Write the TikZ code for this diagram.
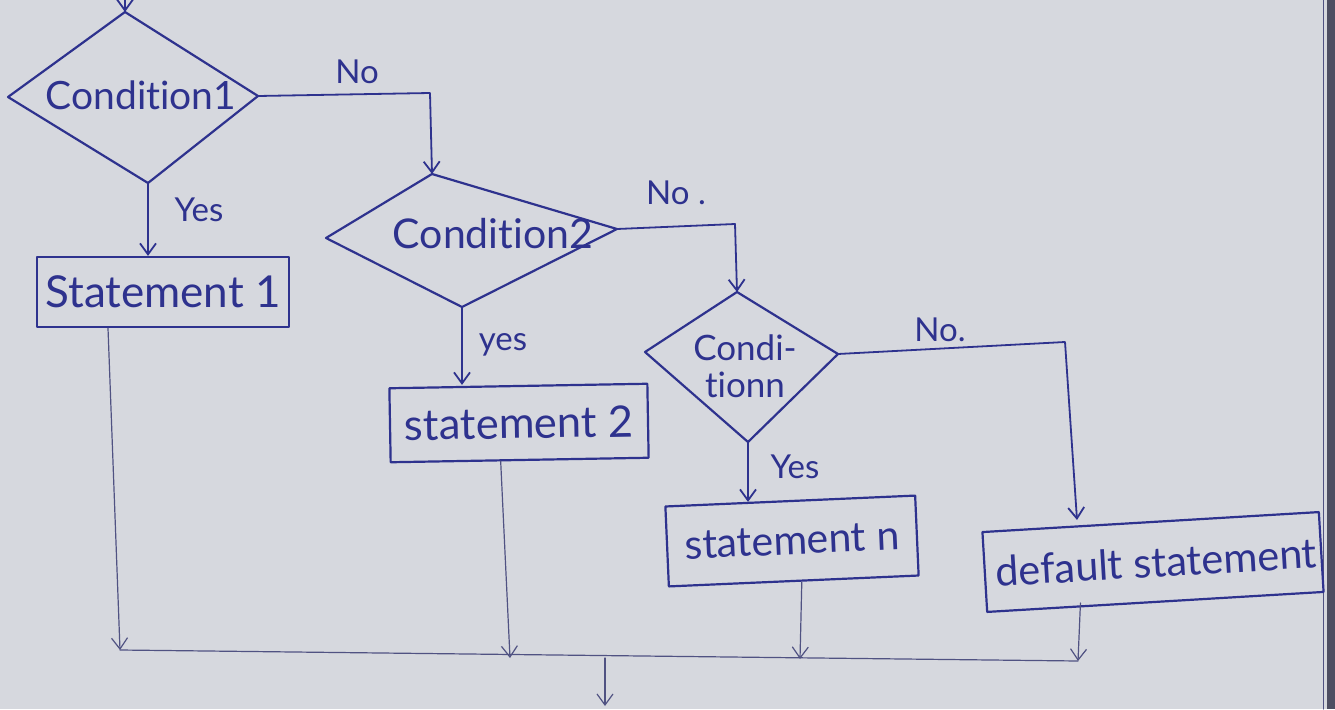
\documentclass[tikz,border=0pt]{standalone}
\usepackage{fontspec}
\setmainfont{Lato}[Ligatures=NoCommon]
\usetikzlibrary{arrows.meta,calc}
\definecolor{paper}{RGB}{214,216,222}
\definecolor{ink}{RGB}{46,50,142}
\definecolor{pencil}{RGB}{80,82,130}
\definecolor{edgedark}{RGB}{78,78,98}

\begin{document}
\begin{tikzpicture}[x=1pt,y=-1pt,
  line join=round, line cap=round,
  outline/.style={draw=ink, line width=2.2pt},
  txt/.style={text=ink, inner sep=0pt, align=center},
  lbl/.style={text=ink, inner sep=0pt, font=\fontsize{33}{36}\selectfont},
  box/.style={draw=ink, line width=2.2pt, inner sep=0pt, minimum height=#1},
  box/.default=70pt,
  barb/.tip={Straight Barb[length=11pt,width=16pt]},
  flow/.style={draw=ink, line width=1.8pt, -barb},
  thinflow/.style={draw=pencil, line width=1.2pt, -barb},
  thinline/.style={draw=pencil, line width=1.2pt}]

% paper and its edge
\fill[paper] (0,0) rectangle (1335,709);
\useasboundingbox (0,0) rectangle (1335,709);
\fill[edgedark] (1327,0) rectangle (1335,709);
\draw[pencil, line width=1pt] (1323,0) -- (1323,709);

% decision 1
\coordinate (c1t) at (125,12);
\coordinate (c1r) at (258,96);
\coordinate (c1b) at (148,183);
\coordinate (c1l) at (8,97);
\draw[outline] (c1t) -- (c1r) -- (c1b) -- (c1l) -- cycle;
\node[txt, font=\fontsize{39}{41}\selectfont] (c1) at (141,95) {Condition1};

% decision 2
\coordinate (c2t) at (432,174);
\coordinate (c2r) at (617,229);
\coordinate (c2b) at (462,307);
\coordinate (c2l) at (326,238);
\draw[outline] (c2t) -- (c2r) -- (c2b) -- (c2l) -- cycle;
\node[txt, font=\fontsize{41}{43}\selectfont] (c2) at (493,234) {Condition2};

% decision n
\coordinate (c3t) at (737,292);
\coordinate (c3r) at (838,354);
\coordinate (c3b) at (748,442);
\coordinate (c3l) at (645,352);
\draw[outline] (c3t) -- (c3r) -- (c3b) -- (c3l) -- cycle;
\node[txt, font=\fontsize{35}{37}\selectfont] (c3) at (745,366) {Condi-\\tionn};

% statements
\node[box, minimum width=252pt] (s1) at (163,292) {};
\node[txt, font=\fontsize{44}{46}\selectfont] at (s1) {Statement 1};
\node[box=74pt, minimum width=258pt, rotate=1] (s2) at (519,423) {};
\node[txt, font=\fontsize{43.5}{46}\selectfont, rotate=1] at (s2) {statement 2};
\node[box=80pt, minimum width=250pt, rotate=2.5] (sn) at (792,541) {};
\node[txt, font=\fontsize{41}{43}\selectfont, rotate=2.5] at (sn) {statement n};
\node[box=80pt, minimum width=337pt, rotate=3.4] (sd) at (1153,562) {};
\node[txt, font=\fontsize{41.5}{44}\selectfont, rotate=3.4] at ($(sd)+(3,0)$) {default statement};

% entry
\coordinate (in) at (125,-2);
\draw[flow] (in) -- (c1t);

% yes branches
\draw[flow] (c1b) -- (c1b |- s1.north);
\node[lbl] (y1) at (199,210) {Yes};
\draw[flow] (c2b) -- (c2b |- s2.north);
\node[lbl] (y2) at (503,345) {yes};
\draw[flow] (c3b) -- ($(c3b |- sn.north)+(0,2)$);
\node[lbl] (y3) at (795,467) {Yes};

% no branches
\coordinate (k1) at (430,93);
\draw[flow] (c1r) -- (k1) -- (c2t);
\node[lbl] (n1) at (357,72) {No};
\coordinate (k2) at (735,224);
\draw[flow] (c2r) -- (k2) -- (c3t);
\node[lbl] (n2) at (676,193) {No .};
\coordinate (k3) at (1065,342);
\coordinate (k3b) at (1077,520);
\draw[flow] (c3r) -- (k3) -- (k3b);
\node[lbl] (n3) at (940,330) {No.};

% merging the branches
\coordinate (m1) at (120,650);
\coordinate (m2) at (510,658);
\coordinate (m3) at (800,659);
\coordinate (m4) at (1078,661);
\draw[thinflow] ($(s1.south)+(-55,0)$) -- (m1);
\draw[thinflow] ($(s2.south)+(-19,0)$) -- (m2);
\draw[thinflow] ($(sn.south)+(8,0)$) -- (m3);
\draw[thinflow] ($(sd.south)+(-75,0)$) -- (m4);
\draw[thinline] (m1) -- (m4);
\coordinate (m0) at (605,658);
\coordinate (out) at (605,706);
\draw[thinflow] (m0) -- (out);
\end{tikzpicture}
\end{document}
